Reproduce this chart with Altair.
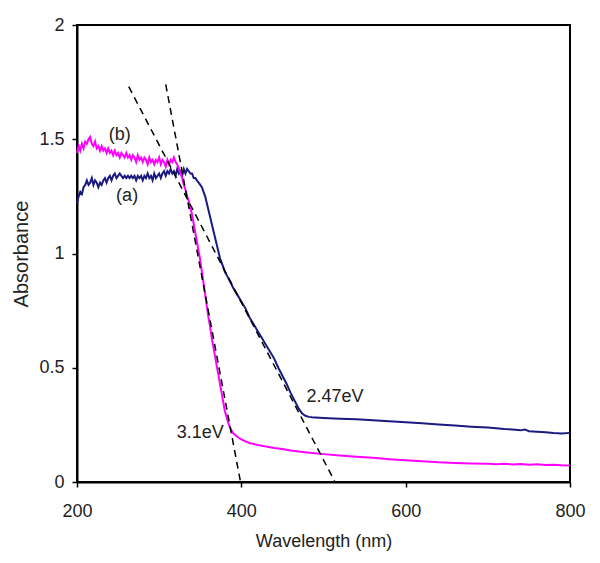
import altair as alt
import pandas as pd

# ---- data ----
wl_a = [200, 202, 204, 206, 208, 210, 212, 214, 216, 218, 220, 222, 224, 226, 228, 230,
        232, 234, 236, 238, 240, 242, 244, 246, 248, 250, 252, 254, 256, 258, 260, 262,
        264, 266, 268, 270, 272, 274, 276, 278, 280, 282, 284, 286, 288, 290, 292, 294,
        296, 298, 300, 302, 304, 306, 308, 310, 312, 314, 316, 318, 320, 322, 324, 326,
        328, 330, 332, 334, 336, 338, 340, 342, 344, 346, 348, 350, 352, 354, 356, 358,
        360, 362, 364, 366, 368, 370, 372, 374, 376, 378, 380, 383, 386, 390, 395, 400,
        405, 410, 415, 420, 425, 430, 435, 440, 445, 450, 455, 460, 465, 470, 474, 478,
        482, 486, 490, 500, 520, 540, 560, 580, 600, 620, 640, 660, 680, 700, 710, 720,
        730, 740, 745, 750, 760, 770, 780, 790, 800]
abs_a = [1.22, 1.25, 1.27, 1.26, 1.29, 1.30, 1.32, 1.30, 1.31, 1.33, 1.30, 1.32, 1.31, 1.29, 1.31, 1.30,
         1.32, 1.33, 1.31, 1.33, 1.34, 1.32, 1.34, 1.35, 1.33, 1.34, 1.35, 1.34, 1.33, 1.34, 1.33, 1.34,
         1.33, 1.34, 1.33, 1.34, 1.32, 1.34, 1.33, 1.34, 1.32, 1.34, 1.33, 1.35, 1.33, 1.34, 1.32, 1.35,
         1.33, 1.34, 1.35, 1.33, 1.35, 1.36, 1.34, 1.36, 1.35, 1.37, 1.35, 1.36, 1.34, 1.37, 1.35, 1.36,
         1.34, 1.37, 1.35, 1.37, 1.36, 1.35, 1.35, 1.33, 1.33, 1.32, 1.31, 1.30, 1.29, 1.27, 1.25, 1.22,
         1.19, 1.16, 1.13, 1.10, 1.07, 1.04, 1.01, 0.98, 0.96, 0.94, 0.92, 0.90, 0.88, 0.85, 0.82, 0.79,
         0.76, 0.72, 0.69, 0.66, 0.63, 0.60, 0.57, 0.54, 0.50, 0.465, 0.43, 0.39, 0.355, 0.32, 0.30, 0.29,
         0.285, 0.283, 0.282, 0.280, 0.277, 0.275, 0.270, 0.266, 0.262, 0.257, 0.252, 0.247, 0.242, 0.238, 0.235, 0.232,
         0.230, 0.226, 0.230, 0.222, 0.220, 0.218, 0.214, 0.212, 0.215]

wl_b = [200, 202, 204, 206, 208, 210, 212, 214, 216, 218, 220, 222, 224, 226, 228, 230,
        232, 234, 236, 238, 240, 242, 244, 246, 248, 250, 252, 254, 256, 258, 260, 262,
        264, 266, 268, 270, 272, 274, 276, 278, 280, 282, 284, 286, 288, 290, 292, 294,
        296, 298, 300, 302, 304, 306, 308, 310, 312, 314, 316, 318, 320, 322, 324, 326,
        328, 330, 332, 334, 336, 338, 340, 342, 344, 346, 348, 350, 352, 354, 356, 358,
        360, 362, 364, 366, 368, 370, 372, 374, 376, 378, 380, 382, 384, 386, 388, 390,
        395, 400, 405, 410, 420, 430, 440, 450, 460, 470, 480, 500, 520, 540, 560, 580,
        600, 620, 640, 660, 680, 700, 710, 720, 730, 740, 750, 760, 770, 780, 790, 800]
abs_b = [1.44, 1.47, 1.45, 1.48, 1.46, 1.49, 1.48, 1.50, 1.51, 1.48, 1.47, 1.49, 1.46, 1.47, 1.45, 1.47,
         1.45, 1.46, 1.44, 1.46, 1.44, 1.45, 1.43, 1.45, 1.43, 1.44, 1.42, 1.44, 1.43, 1.42, 1.44, 1.42,
         1.43, 1.41, 1.43, 1.42, 1.40, 1.43, 1.41, 1.42, 1.40, 1.42, 1.41, 1.39, 1.42, 1.40, 1.41, 1.39,
         1.41, 1.40, 1.42, 1.39, 1.41, 1.40, 1.38, 1.41, 1.39, 1.41, 1.40, 1.42, 1.40, 1.39, 1.37, 1.35,
         1.33, 1.30, 1.28, 1.25, 1.23, 1.20, 1.17, 1.13, 1.09, 1.05, 1.01, 0.97, 0.92, 0.87, 0.82, 0.77,
         0.72, 0.68, 0.63, 0.59, 0.55, 0.51, 0.47, 0.43, 0.39, 0.35, 0.31, 0.285, 0.26, 0.24, 0.225, 0.214,
         0.198, 0.187, 0.178, 0.171, 0.162, 0.155, 0.149, 0.144, 0.138, 0.133, 0.129, 0.122, 0.116, 0.111, 0.106, 0.100,
         0.095, 0.091, 0.086, 0.083, 0.081, 0.080, 0.078, 0.080, 0.077, 0.079, 0.075, 0.078, 0.074, 0.076, 0.073, 0.072]

series_names = ["(a)", "(b)"]
series_colors = ["#1a1a80", "#ff00ff"]

# tangent (band-gap extrapolation) lines
tan_names = ["3.1eV", "2.47eV"]
tan_x1 = [308, 263]
tan_y1 = [1.74, 1.73]
tan_x2 = [399, 514]
tan_y2 = [0.0, 0.0]

# annotations
ann_text = ["(b)", "(a)", "2.47eV", "3.1eV"]
ann_x = [252, 261, 514, 350]
ann_y = [1.52, 1.25, 0.373, 0.213]

FONT = "Liberation Sans"
TXT = "#222222"

df = pd.concat([
    pd.DataFrame({"wl": wl_a, "A": abs_a, "s": series_names[0]}),
    pd.DataFrame({"wl": wl_b, "A": abs_b, "s": series_names[1]}),
])
tan_df = pd.DataFrame({"name": tan_names, "x1": tan_x1, "y1": tan_y1, "x2": tan_x2, "y2": tan_y2})
ann_df = pd.DataFrame({"t": ann_text, "x": ann_x, "y": ann_y})

xs = alt.Scale(domain=[200, 800], nice=False, zero=False)
ys = alt.Scale(domain=[0, 2], nice=False)

x_axis = alt.Axis(values=[200, 400, 600, 800], title="Wavelength (nm)", grid=False,
                  labelPadding=15, titlePadding=12, format="d", labelFlush=False,
                  labelFontSize=18, titleFontSize=18)
y_axis = alt.Axis(values=[0, 0.5, 1, 1.5, 2], title="Absorbance", grid=False,
                  labelPadding=8, titlePadding=7, format="~g", labelFlush=False,
                  labelFontSize=18, titleFontSize=20)

lines = alt.Chart(df).mark_line(strokeWidth=2).encode(
    x=alt.X("wl:Q", scale=xs, axis=x_axis),
    y=alt.Y("A:Q", scale=ys, axis=y_axis),
    color=alt.Color("s:N", scale=alt.Scale(domain=series_names, range=series_colors), legend=None),
    detail="s:N",
    order="wl:Q",
)

tangents = alt.Chart(tan_df).mark_rule(color="black", strokeWidth=1.5, strokeDash=[7, 5]).encode(
    x="x1:Q", y="y1:Q", x2="x2:Q", y2="y2:Q"
)

labels = alt.Chart(ann_df).mark_text(font=FONT, fontSize=18, color=TXT).encode(
    x="x:Q", y="y:Q", text="t:N"
)

chart = alt.layer(lines, tangents, labels).properties(
    width=493, height=457,
    autosize=alt.AutoSizeParams(type="none"),
    padding={"left": 69, "top": 17, "right": 20, "bottom": 70},
    background="white",
).configure_view(
    stroke="black", strokeWidth=2
).configure_axis(
    domainColor="black", domainWidth=2, tickColor="black", tickWidth=1.5, tickSize=5,
    labelFont=FONT, labelColor=TXT,
    titleFont=FONT, titleColor=TXT, titleFontWeight="normal",
)

chart.save("out.html", embed_options={"renderer": "svg", "actions": False})
